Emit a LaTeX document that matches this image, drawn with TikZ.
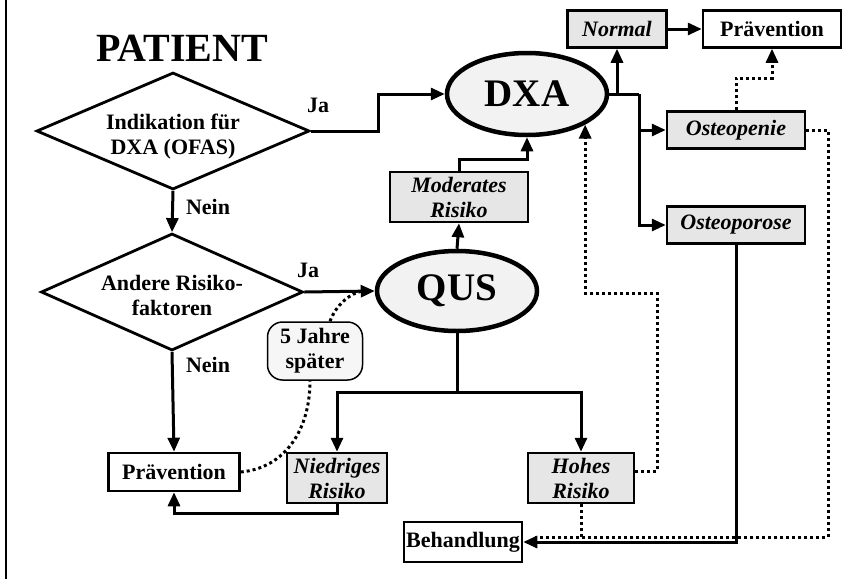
\documentclass[tikz,border=0pt]{standalone}
\usepackage{fontspec}
\setmainfont{Liberation Serif}
\usetikzlibrary{shapes.geometric,arrows.meta,calc}
\definecolor{boxgray}{HTML}{E6E6E6}
\definecolor{ellgray}{HTML}{F2F2F2}
\definecolor{softgray}{HTML}{F6F6F6}
\begin{document}
\begin{tikzpicture}[x=1pt,y=-1pt,
  txt/.style={font=\fontsize{22}{25}\selectfont\bfseries, align=center},
  box/.style={txt, draw, line width=2.5pt, rectangle, inner sep=0pt},
  gbox/.style={box, fill=boxgray, font=\fontsize{22}{25}\selectfont\bfseries\itshape},
  dia/.style={txt, draw, diamond, line width=2.8pt, inner sep=0pt},
  ell/.style={draw, ellipse, line width=4.5pt, fill=ellgray, inner sep=0pt, font=\fontsize{39}{40}\selectfont\bfseries},
  conn/.style={line width=3pt},
  arr/.style={conn, -{Triangle[length=14pt,width=12pt]}},
  dots/.style={line width=3pt, dash pattern=on 3pt off 3pt},
  darr/.style={dots, -{Triangle[length=14pt,width=12pt]}}
]
\useasboundingbox (0,0) rectangle (852,579);
\draw[line width=1.5pt] (6,0) -- (6,579);

% nodes
\node[txt, font=\fontsize{40}{40}\selectfont\bfseries] (patient) at (182,48) {PATIENT};
\node[dia, aspect=2.33, minimum width=273pt, minimum height=117pt] (d1) at (173,131) {};
\node[txt] (d1t) at (173,137) {Indikation für\\DXA (OFAS)};
\node[dia, aspect=2.24, minimum width=262pt, minimum height=117pt] (d2) at (172,292) {};
\node[txt] (d2t) at (172,295) {Andere Risiko-\\faktoren};
\node[ell, minimum width=160pt, minimum height=82pt] (dxa) at (527,94) {DXA};
\node[ell, minimum width=160pt, minimum height=80pt] (qus) at (457,291) {QUS};
\node[gbox, minimum width=138pt, minimum height=50pt] (modr) at (459,197) {Moderates\\Risiko};
\node[gbox, minimum width=99pt, minimum height=37pt] (normal) at (617,29) {Normal};
\node[box, minimum width=138pt, minimum height=37pt] (prevR) at (772,29) {Prävention};
\node[gbox, minimum width=138pt, minimum height=37pt] (openie) at (736,130) {Osteopenie};
\node[gbox, minimum width=138pt, minimum height=37pt] (oporose) at (736,225) {Osteoporose};
\node[box, minimum width=131pt, minimum height=38pt] (prevL) at (174,472) {Prävention};
\node[txt, draw, line width=1.5pt, fill=softgray, rounded corners=15pt, minimum width=95pt, minimum height=58pt, inner sep=0pt] (jahre) at (315,351) {5 Jahre\\später};
\node[gbox, minimum width=100pt, minimum height=50pt] (niedr) at (337,478) {Niedriges\\Risiko};
\node[gbox, minimum width=106pt, minimum height=50pt] (hohes) at (581,478) {Hohes\\Risiko};
\node[box, minimum width=118pt, minimum height=40pt] (behand) at (463,542) {Behandlung};

% labels
\node[txt] (ja1) at (318,105) {Ja};
\node[txt] (nein1) at (208,207) {Nein};
\node[txt] (ja2) at (308,270) {Ja};
\node[txt] (nein2) at (208,365) {Nein};

% solid connectors
\draw[arr] (d1.east) -- ++(68,0) |- (dxa.west);
\draw[arr] (d1.south) -- (d2.north);
\draw[arr] (d2.east) -- (qus.west);
\draw[arr] (d2.south) -- (prevL.north);
\draw[conn] (qus.south) -- ++(0,59) coordinate (split);
\draw[arr] (split) -| (niedr.north);
\draw[arr] (split) -| (hohes.north);
\draw[arr] (niedr.south) -- ++(0,9) -| (prevL.south);
\draw[arr] (qus.north) -- (modr.south);
\draw[arr] (modr.north) -- ++(0,-11) -| (dxa.south);
\draw[conn] (dxa.east) -- ++(30,0) coordinate (j);
\draw[arr] (j) |- (openie.west);
\draw[arr] (j) |- (oporose.west);
\draw[arr] (normal.south |- dxa.east) -- (normal.south);
\draw[arr] (normal.east) -- (prevR.west);
\draw[arr] (oporose.south) |- (behand.east);

% dotted connectors
\draw[darr] (openie.north) -- ++(0,-32) -| (prevR.south);
\draw[dots] (openie.east) -- ++(22,0) |- ($(behand.east)+(12,-5)$);
\draw[dots] (hohes.south) -- ++(0,34);
\draw[darr] ($(hohes.east)+(0,-7)$) -- ++(22,0) -- ++(0,-178) -| (dxa.south east);
\draw[dots] (prevL.east) .. controls (285,468) and (310,430) .. ($(jahre.south)+(-5,0)$);
\draw[dots] ($(jahre.north)+(15,0)$) .. controls (336,305) and (350,293) .. ($(qus.west)+(-12,0)$);
\end{tikzpicture}
\end{document}
